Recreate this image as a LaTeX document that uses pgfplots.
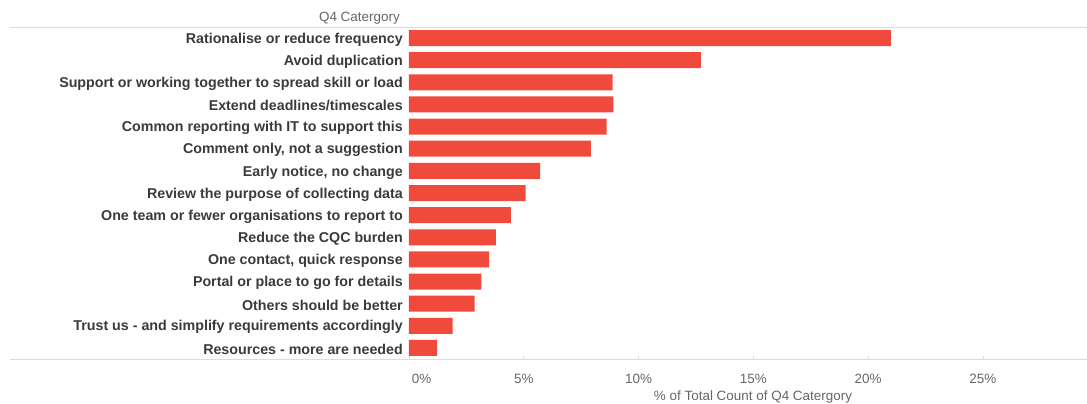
\documentclass[border=0pt]{standalone}
\usepackage{pgfplots}
\pgfplotsset{compat=1.18}
\usepackage{fontspec}
\setmainfont{Liberation Sans}
\definecolor{barred}{HTML}{F04A3C}
\definecolor{lbl}{HTML}{3A3A3A}
\definecolor{tck}{HTML}{666666}
\definecolor{rulec}{HTML}{DCDCDC}
\begin{document}
\begin{tikzpicture}
\useasboundingbox (-409bp,-45bp) rectangle (678bp,359bp);
\begin{axis}[
  at={(0,0)}, anchor=south west,
  scale only axis, width=678bp, height=332bp,
  xmin=0, xmax=29.54, ymin=0.5, ymax=15.5, y dir=reverse,
  axis line style={draw=none},
  ytick={1,...,15},
  yticklabels={Rationalise or reduce frequency, Avoid duplication, Support or working together to spread skill or load, Extend deadlines/timescales, Common reporting with IT to support this, {Comment only, not a suggestion}, {Early notice, no change}, Review the purpose of collecting data, One team or fewer organisations to report to, Reduce the CQC burden, {One contact, quick response}, Portal or place to go for details, Others should be better, Trust us - and simplify requirements accordingly, Resources - more are needed},
  yticklabel style={font=\fontsize{14.3}{16}\selectfont\bfseries, text=lbl, inner sep=0pt, xshift=-6bp, yshift=-1.5bp},
  y tick style={draw=none},
  xtick={0,5,10,15,20,25},
  xticklabels={\makebox[0pt][l]{\hspace{3bp}0\%},5\%,10\%,15\%,20\%,25\%},
  xticklabel style={font=\fontsize{13.5}{15}\selectfont, text=tck, inner sep=0pt, anchor=north, yshift=-15bp},
  x tick style={draw=rulec, line width=0.6pt},
  major tick length=3bp, tick align=inside,
  xtick pos=bottom,
  xlabel={\% of Total Count of Q4 Catergory},
  xlabel style={font=\fontsize{13.5}{15}\selectfont, text=tck, inner sep=0pt, at={(axis description cs:0.5,0)}, anchor=north, yshift=-31.5bp, xshift=5bp},
  clip=false,
]
\addplot[xbar, fill=barred, draw=none, bar width=16bp] coordinates {
  (21.0,1) (12.72,2) (8.87,3) (8.9,4) (8.61,5) (7.92,6) (5.71,7) (5.08,8)
  (4.44,9) (3.78,10) (3.49,11) (3.15,12) (2.86,13) (1.9,14) (1.23,15)
};
\end{axis}
\draw[rulec, line width=0.8pt] (-399bp,0) -- (678bp,0);
\draw[rulec, line width=0.8pt] (-399bp,332bp) -- (678bp,332bp);
\node[anchor=base east, inner sep=0pt, font=\fontsize{13.5}{15}\selectfont, text=tck] at (-9bp,337bp) {Q4 Catergory};
\end{tikzpicture}
\end{document}
